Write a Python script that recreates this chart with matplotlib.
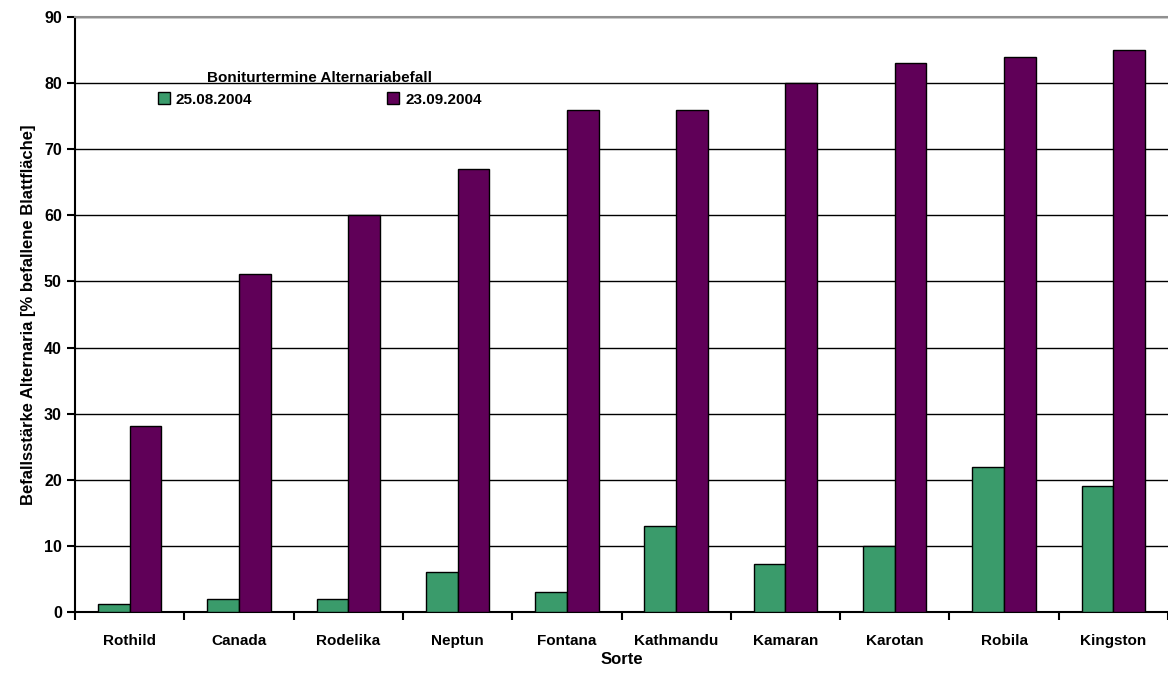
import matplotlib.pyplot as plt
import numpy as np

sorten = ['Rothild', 'Canada', 'Rodelika', 'Neptun', 'Fontana', 'Kathmandu',
          'Kamaran', 'Karotan', 'Robila', 'Kingston']
befall_0825 = [1.2, 2, 2, 6, 3, 13, 7.2, 10, 22, 19]
befall_0923 = [28.2, 51.2, 60, 67, 76, 76, 80, 83, 84, 85]

plt.rcParams['font.family'] = ['Liberation Sans Narrow', 'Liberation Sans', 'DejaVu Sans']
plt.rcParams['font.weight'] = 'bold'

fig = plt.figure(figsize=(11.68, 6.78), dpi=100)
ax = fig.add_axes([75 / 1168, 66 / 678, 1093 / 1168, 595 / 678])

x = np.arange(len(sorten))
w = 0.29
ax.bar(x - w / 2, befall_0825, w, color='#3a9b6b', edgecolor='black', linewidth=1,
       label='25.08.2004', zorder=3)
ax.bar(x + w / 2, befall_0923, w, color='#600058', edgecolor='black', linewidth=1,
       label='23.09.2004', zorder=3)

ax.set_xlim(-0.5, len(sorten) - 0.5)
ax.set_ylim(0, 90)
ax.set_yticks(range(0, 91, 10))
ax.yaxis.grid(True, color='black', linewidth=1)
ax.set_axisbelow(True)

ax.set_xticks(x)
ax.set_xticklabels(sorten, fontsize=11, fontweight='bold')
ax.tick_params(axis='x', length=0, pad=16)
ax.set_xticks(np.arange(-0.5, len(sorten)), minor=True)
ax.tick_params(axis='x', which='minor', length=6, width=1.5, direction='out')
ax.tick_params(axis='y', length=6, width=1.5, direction='out', labelsize=11.5)

for s in ['left', 'bottom']:
    ax.spines[s].set_linewidth(1.5)
ax.spines['right'].set_visible(False)
ax.spines['top'].set_color('#909090')
ax.spines['top'].set_linewidth(1.5)

ax.set_xlabel('Sorte', fontsize=12, fontweight='bold', labelpad=3)
ax.set_ylabel('Befallsstärke Alternaria [% befallene Blattfläche]', fontsize=12,
              fontweight='bold', labelpad=6)

leg = ax.legend(title='Boniturtermine Alternariabefall', ncol=2, frameon=False,
                loc='upper left', bbox_to_anchor=(0.07, 0.92), fontsize=11,
                title_fontsize=11, handlelength=0.8, handleheight=0.8,
                handletextpad=0.4, columnspacing=8.8, borderaxespad=0)
leg.get_title().set_fontweight('bold')

fig.savefig('out.png', dpi=100)
